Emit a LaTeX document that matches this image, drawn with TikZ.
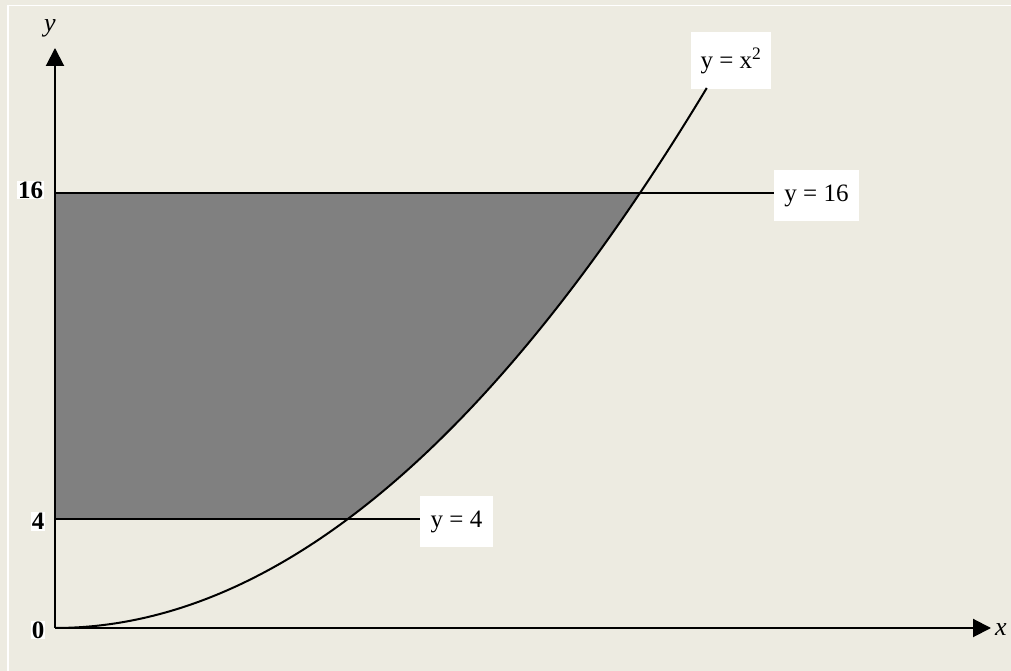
\documentclass[tikz,border=0pt]{standalone}
\usepackage{fontspec}
\setmainfont{Liberation Serif}
\usetikzlibrary{arrows.meta}
\definecolor{bgc}{HTML}{EDEBE1}
\definecolor{shadec}{HTML}{808080}
\tikzset{
  axisline/.style={line width=2pt,-{Triangle[length=18pt,width=18pt]}},
  curveline/.style={line width=2pt},
  hline/.style={line width=2pt},
  eqbox/.style={fill=white,inner sep=0pt,font=\fontsize{25}{28}\selectfont},
  numlab/.style={fill=white,inner sep=1pt,font=\fontsize{25}{28}\selectfont\bfseries},
  axlab/.style={font=\fontsize{26}{28}\selectfont\itshape}
}
\begin{document}
\begin{tikzpicture}[x=1pt,y=1pt]
\fill[bgc] (0,0) rectangle (1011,671);
\useasboundingbox (0,0) rectangle (1011,671);
\draw[white,line width=1.5pt] (8,0) -- (8,665.5) -- (1011,665.5);
% shaded region
\fill[shadec] (55,152) -- (347.5,152)
  -- plot[domain=2:4,samples=40,smooth] ({55+146.25*\x},{43+27.19*\x*\x})
  -- (55,478) -- cycle;
% nodes
\coordinate (O) at (55,43);
\coordinate (ytip) at (55,623);
\coordinate (xtip) at (991,43);
\coordinate (a16) at (55,478);
\coordinate (a4) at (55,152);
\node[eqbox,minimum width=80pt,minimum height=57pt] (bx2) at (731,610) {y = x\textsuperscript{2}};
\node[eqbox,minimum width=85pt,minimum height=51pt] (b16) at (816.5,475.5) {y = 16};
\node[eqbox,minimum width=73pt,minimum height=51pt] (b4) at (456.5,149.5) {y = 4};
\node[numlab] (n16) at (30.5,481) {16};
\node[numlab] (n4) at (38,149.5) {4};
\node[numlab] (n0) at (38,41) {0};
\node[axlab] (ly) at (50,643) {y};
\node[axlab] (lx) at (1001,41) {x};
% lines
\draw[hline] (a16) -- (b16.west |- a16);
\draw[hline] (a4) -- (b4.west |- a4);
\draw[curveline] plot[domain=0:4.457,samples=80,smooth] ({55+146.25*\x},{43+27.19*\x*\x});
% axes
\draw[axisline] (O) -- (ytip);
\draw[axisline] (O) -- (xtip);
\end{tikzpicture}
\end{document}
